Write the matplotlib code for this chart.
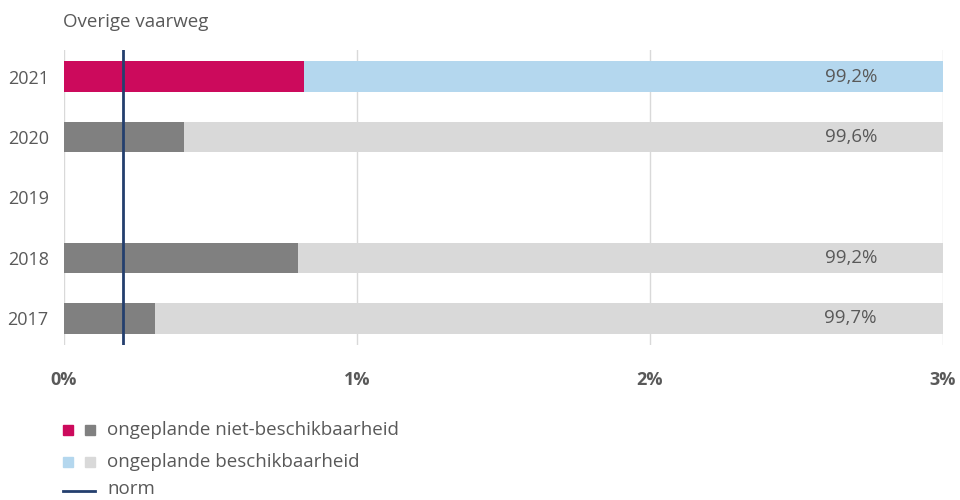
import numpy as np
import matplotlib.pyplot as plt
from matplotlib.patches import Rectangle
from matplotlib.lines import Line2D

plt.rcParams['font.family'] = ['Open Sans', 'DejaVu Sans']

# data
years = ['2017', '2018', '2019', '2020', '2021']
unavailable = [0.31, 0.80, np.nan, 0.41, 0.82]  # ongeplande niet-beschikbaarheid (%)
axis_max = 3.0
norm_value = 0.2
xticks = [0, 1, 2, 3]
xtick_labels = ['0%', '1%', '2%', '3%']

dark_colors = ['#808080', '#808080', '#808080', '#808080', '#CC0A5C']
light_colors = ['#D9D9D9', '#D9D9D9', '#D9D9D9', '#D9D9D9', '#B4D7EE']
text_color = '#595959'
norm_color = '#243F6E'

fig = plt.figure(figsize=(9.6, 5), dpi=100)
W, H = 960, 500
ax = fig.add_axes([64 / W, 1 - 345 / H, (943 - 64) / W, (345 - 50) / H])

ypos = np.arange(len(years))
for i, v in enumerate(unavailable):
    if np.isnan(v):
        continue
    ax.barh(ypos[i], v, height=0.5, color=dark_colors[i], zorder=2)
    ax.barh(ypos[i], axis_max - v, left=v, height=0.5, color=light_colors[i], zorder=2)
    label = f"{100 - v:.1f}%".replace('.', ',')
    ax.text(2.685, ypos[i], label, ha='center', va='center', fontsize=13.5,
            color=text_color, zorder=3)

ax.axvline(norm_value, color=norm_color, lw=2, zorder=4)

ax.set_xlim(0, axis_max)
ax.set_ylim(-0.44, 4.44)
ax.set_xticks(xticks)
ax.set_xticklabels(xtick_labels, fontsize=13, fontweight='bold', color=text_color)
ax.set_yticks(ypos)
ax.set_yticklabels(years, fontsize=13, color=text_color)
ax.tick_params(length=0)
ax.tick_params(axis='x', pad=19)
ax.tick_params(axis='y', pad=11)
ax.grid(axis='x', color='#D9D9D9', lw=1, zorder=0)
for s in ax.spines.values():
    s.set_visible(False)

fig.text(63 / W, 1 - 22 / H, 'Overige vaarweg', fontsize=13.5, color=text_color,
         ha='left', va='center')

# legend
def box(x, y, c):
    fig.patches.append(Rectangle((x / W, 1 - (y + 10) / H), 10 / W, 10 / H,
                                 transform=fig.transFigure, color=c))

box(63, 425, '#CC0A5C')
box(85, 425, '#808080')
box(63, 457, '#B4D7EE')
box(85, 457, '#D9D9D9')
fig.lines.append(Line2D([63 / W, 95 / W], [1 - 491 / H, 1 - 491 / H],
                        transform=fig.transFigure, color=norm_color, lw=2))
fig.text(107 / W, 1 - 430 / H, 'ongeplande niet-beschikbaarheid', fontsize=13.5,
         color=text_color, va='center')
fig.text(107 / W, 1 - 462 / H, 'ongeplande beschikbaarheid', fontsize=13.5,
         color=text_color, va='center')
fig.text(107 / W, 1 - 489 / H, 'norm', fontsize=13.5, color=text_color, va='center')

fig.savefig('out.png', dpi=100)
